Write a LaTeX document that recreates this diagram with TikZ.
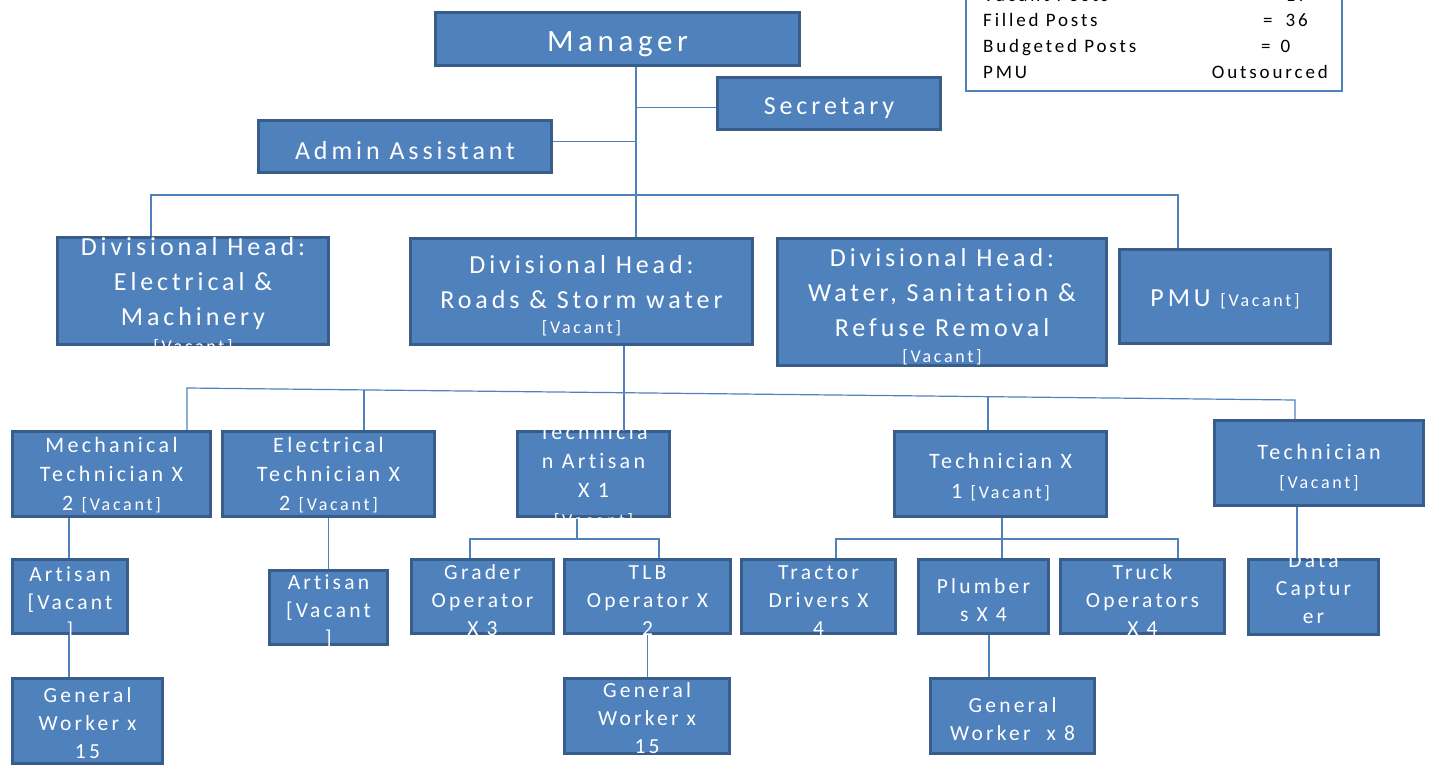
\documentclass[tikz,border=0pt]{standalone}
\usepackage{fontspec}
\setmainfont{Carlito}[LetterSpace=15, Ligatures=CommonOff]
\definecolor{boxfill}{HTML}{4F81BD}
\definecolor{boxedge}{HTML}{385D8A}
\definecolor{linkc}{HTML}{4F81BD}
\pgfdeclarelayer{background}
\pgfsetlayers{background,main}

\newcommand\fs[2]{\fontsize{#1}{#2}\selectfont}
\newcommand\vac{{\fontsize{18}{20}\selectfont[Vacant]}}
\tikzset{
  orgbox/.style={draw=boxedge, fill=boxfill, line width=3pt, inner sep=0pt},
  lbl/.style={text=white, align=center, inner sep=0pt},
  big/.style={font=\fs{26}{35}},
  mid/.style={font=\fs{22}{29}},
  small/.style={font=\fs{21.5}{28}},
  link/.style={draw=linkc, line width=1.2pt},
  legtext/.style={text=black, inner sep=0pt, font=\fs{19}{24}},
}
% \orgnode{name}{x1}{y1}{x2}{y2}{text options}{text}:
% a filled box, its text laid over it and cut at the box's outer edge
\newcommand\orgnode[7]{%
  \node[orgbox, minimum width={#4-#2-3}, minimum height={#5-#3-3}]
    (#1) at ({(#2+#4)/2},{(#3+#5)/2}) {};
  \begin{scope}
    \clip (#2,#3) rectangle (#4,#5);
    \node[lbl, #6] (#1-text) at (#1.center) {#7};
  \end{scope}}

\begin{document}
\begin{tikzpicture}[x=1pt, y=-1pt]
\useasboundingbox (0,0) rectangle (1431,770);
\clip (0,0) rectangle (1431,770);

% legend
\node[draw=linkc, line width=1.5pt, minimum width=376, minimum height=110, inner sep=0pt]
  (legend) at (1154,36) {};
\node[legtext, anchor=base west] (lg1) at (983,2) {Vacant Posts};
\node[legtext, anchor=base west] (lg2) at (983,27) {Filled Posts};
\node[legtext, anchor=base west] (lg3) at (983,53) {Budgeted Posts};
\node[legtext, anchor=base west] (lg4) at (983,79) {PMU};
\node[legtext, anchor=base west] (lv1) at (1263,2) {=\hspace{13pt}17};
\node[legtext, anchor=base west] (lv2) at (1263,27) {=\hspace{13pt}36};
\node[legtext, anchor=base west] (lv3) at (1261,53) {=\hspace{10pt}0};
\node[legtext, anchor=base east] (lv4) at (1328,79) {Outsourced};

% top management
\orgnode{mgr}{434}{11}{801}{67}{yshift=-5, font=\fs{31}{36}}{Manager}
\orgnode{sec}{716}{76}{942}{131}{yshift=-5, font=\fs{26}{30}}{Secretary}
\orgnode{adm}{257}{119}{553}{174}{yshift=-4, font=\fs{26}{30}}{Admin Assistant}

% divisional heads
\orgnode{deh}{56}{236}{330}{346}{big, yshift=-5}{Divisional Head:\\Electrical \&\\Machinery\\[-8pt]\vac}
\orgnode{roads}{409}{237}{754}{346}{big, yshift=-4}{Divisional Head:\\Roads \& Storm water\\[-10pt]\vac}
\orgnode{water}{776}{237}{1108}{367}{big, yshift=-5}{Divisional Head:\\Water, Sanitation \&\\Refuse Removal\\[-9pt]\vac}
\orgnode{pmu}{1118}{248}{1332}{345}{big, yshift=-3}{PMU \vac}

% technicians
\orgnode{mech}{11}{430}{212}{518}{mid, yshift=-1}{Mechanical\\Technician X\\2 \vac}
\orgnode{etech}{221}{430}{436}{518}{mid, yshift=-1}{Electrical\\Technician X\\2 \vac}
\orgnode{ta}{516}{430}{671}{518}{mid, yshift=-3}{Technicia\\n Artisan\\X 1\\\vac}
\orgnode{tx1}{893}{430}{1108}{518}{mid, yshift=-3}{Technician X\\[1pt]1 \vac}
\orgnode{tech}{1213}{419}{1425}{507}{mid, yshift=-5}{Technician\\\vac}

% operators and artisans
\orgnode{art1}{11}{558}{129}{635}{small, yshift=-7}{Artisan\\{}[Vacant\\]}
\orgnode{art2}{268}{569}{389}{646}{small, yshift=-4}{Artisan\\{}[Vacant\\]}
\orgnode{grader}{410}{558}{555}{635}{small, yshift=-4}{Grader\\Operator\\X 3}
\orgnode{tlb}{563}{558}{732}{635}{small, yshift=-4}{TLB\\Operator X\\2}
\orgnode{tractor}{740}{558}{897}{635}{small, yshift=-4}{Tractor\\Drivers X\\4}
\orgnode{plumb}{917}{558}{1050}{635}{small, yshift=-4}{Plumber\\s X 4}
\orgnode{truck}{1059}{558}{1226}{635}{small, yshift=-4}{Truck\\Operators\\X 4}
\orgnode{dc}{1247}{558}{1380}{636}{small, yshift=8}{Data\\Captur\\er}

% general workers
\orgnode{gw1}{11}{677}{164}{765}{small, yshift=-2}{General\\Worker x\\15}
\orgnode{gw2}{563}{677}{731}{755}{small, yshift=-2}{General\\Worker x\\15}
\orgnode{gw3}{929}{677}{1096}{755}{small, yshift=-3}{General\\Worker\ \ x 8}

% connector routing points
\coordinate (mx) at (636,0);
\coordinate (tb1) at (151,195);
\coordinate (tb2) at (1178,195);
\coordinate (b1) at (187,388);
\coordinate (b2) at (1295,400);
\coordinate (b3) at (364,389.9);
\coordinate (b4) at (624,392.7);
\coordinate (b5) at (988,396.7);
\coordinate (c1) at (69,0);
\coordinate (g0) at (577,539);
\coordinate (g1) at (470,539);
\coordinate (g2) at (659,539);
\coordinate (d0) at (1002,539);
\coordinate (d1) at (836,539);
\coordinate (d2) at (1178,539);
\coordinate (e1) at (989,0);
\coordinate (f1) at (1297,0);

\begin{pgfonlayer}{background}
  \draw[link] (mgr.south -| mx) -- (roads.north -| mx);
  \draw[link] ([yshift=-4]sec.west) -- ([yshift=-4]sec.west -| mx);
  \draw[link] ([yshift=5]adm.east) -- ([yshift=5]adm.east -| mx);
  \draw[link] (deh.north -| tb1) -- (tb1) -- (tb2) -- (pmu.north -| tb2);
  \draw[link] (mech.north -| b1) -- (b1) -- (b2) -- (tech.north -| b2);
  \draw[link] (etech.north -| b3) -- (b3);
  \draw[link] (roads.south -| b4) -- (ta.north -| b4);
  \draw[link] (tx1.north -| b5) -- (b5);
  \draw[link] (mech.south -| c1) -- (art1.north -| c1);
  \draw[link] (art1.south -| c1) -- (gw1.north -| c1);
  \draw[link] (etech.south) -- (art2.north);
  \draw[link] (ta.south -| g0) -- (g0);
  \draw[link] (grader.north -| g1) -- (g1) -- (g2) -- (tlb.north -| g2);
  \draw[link] (tlb.south) -- (gw2.north -| tlb.south);
  \draw[link] (tx1.south -| d0) -- (plumb.north -| d0);
  \draw[link] (tractor.north -| d1) -- (d1) -- (d2) -- (truck.north -| d2);
  \draw[link] (plumb.south -| e1) -- (gw3.north -| e1);
  \draw[link] (tech.south -| f1) -- (dc.north -| f1);
\end{pgfonlayer}
\end{tikzpicture}
\end{document}
